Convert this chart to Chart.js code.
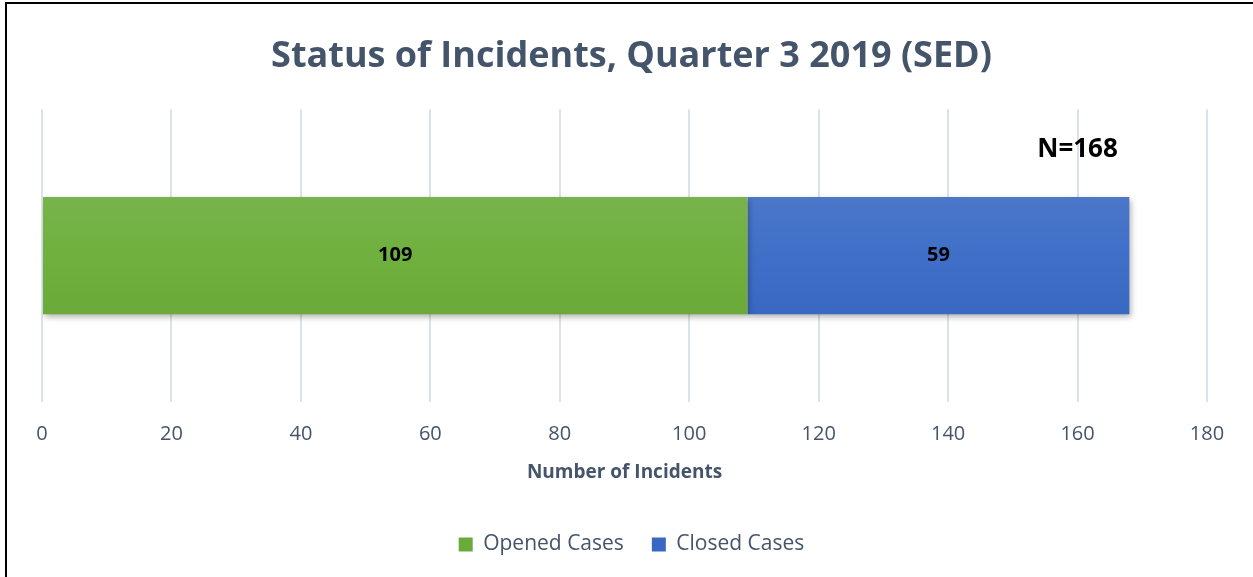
<!DOCTYPE html>
<html lang="en">
<head>
  <meta charset="UTF-8" />
  <title>Status of Incidents, Quarter 3 2019 (SED)</title>
  <script src="https://cdn.jsdelivr.net/npm/chart.js"></script>
  <style>
    body {
      margin: 0;
      overflow: hidden;
      background: white;
      font-family: "Open Sans", Arial, sans-serif;
    }
    #frame {
      position: absolute;
      left: 5px;
      top: 2px;
      width: 1400px;
      height: 700px;
      border: 2px solid #000;
    }
    #wrap {
      position: absolute;
      left: 0;
      top: 0;
      width: 1253px;
      height: 577px;
    }
  </style>
</head>
<body>
  <div id="frame"></div>
  <div id="wrap"><canvas id="statusChart"></canvas></div>

  <script>
    const categories = ['Q3 2019'];
    const seriesNames = ['Opened Cases', 'Closed Cases'];
    const openedCases = [109];
    const closedCases = [59];
    const tickValues = [0, 20, 40, 60, 80, 100, 120, 140, 160, 180];

    const textColor = '#44546a';
    const fontName = '"Open Sans", Arial, sans-serif';

    function barGradient(top, mid, bottom) {
      return function (context) {
        const area = context.chart.chartArea;
        if (!area) return bottom;
        const el = context.element;
        let y0 = area.top, y1 = area.bottom;
        if (el && el.height) {
          y0 = el.y - el.height / 2;
          y1 = el.y + el.height / 2;
        }
        const g = context.chart.ctx.createLinearGradient(0, y0, 0, y1);
        g.addColorStop(0, top);
        g.addColorStop(0.5, mid);
        g.addColorStop(1, bottom);
        return g;
      };
    }

    // soft shadow under the bars
    const shadowPlugin = {
      id: 'barShadow',
      beforeDatasetsDraw(chart) {
        const ctx = chart.ctx;
        ctx.save();
        ctx.shadowColor = 'rgba(0,0,0,0.3)';
        ctx.shadowBlur = 6;
        ctx.shadowOffsetX = 2;
        ctx.shadowOffsetY = 3;
      },
      afterDatasetsDraw(chart) {
        chart.ctx.restore();
      }
    };

    // value labels in the bars + N total
    const labelPlugin = {
      id: 'valueLabels',
      afterDatasetsDraw(chart) {
        const ctx = chart.ctx;
        ctx.save();
        ctx.fillStyle = '#000';
        ctx.textAlign = 'center';
        ctx.textBaseline = 'middle';
        ctx.font = 'bold 20px ' + fontName;
        let total = 0;
        let barTop = 0;
        chart.data.datasets.forEach(function (ds, i) {
          const meta = chart.getDatasetMeta(i);
          meta.data.forEach(function (bar, j) {
            const p = bar.getCenterPoint();
            ctx.fillText(ds.data[j], p.x, p.y);
            total += ds.data[j];
            barTop = bar.y - bar.height / 2;
          });
        });
        ctx.font = 'bold 26px ' + fontName;
        ctx.fillText('N=' + total, chart.scales.x.getPixelForValue(160), barTop - 48);
        ctx.restore();
      }
    };

    new Chart(document.getElementById('statusChart'), {
      type: 'bar',
      data: {
        labels: categories,
        datasets: [
          {
            label: seriesNames[0],
            data: openedCases,
            backgroundColor: barGradient('#84b85f', '#6fb03f', '#63a032'),
            borderWidth: 0
          },
          {
            label: seriesNames[1],
            data: closedCases,
            backgroundColor: barGradient('#5f83cc', '#3f6fc8', '#2f60bb'),
            borderWidth: 0
          }
        ]
      },
      options: {
        indexAxis: 'y',
        responsive: true,
        maintainAspectRatio: false,
        animation: false,
        datasets: {
          bar: { barPercentage: 0.4, categoryPercentage: 1.0 }
        },
        layout: {
          padding: { left: 34, right: 24, top: 14, bottom: 12 }
        },
        scales: {
          x: {
            stacked: true,
            min: 0,
            max: 180,
            afterBuildTicks(axis) {
              axis.ticks = tickValues.map(function (v) { return { value: v }; });
            },
            grid: {
              color: '#dde2ea',
              lineWidth: 2,
              drawTicks: false
            },
            border: { display: false },
            ticks: {
              color: textColor,
              padding: 20,
              font: { size: 20, family: fontName }
            },
            title: {
              display: true,
              text: 'Number of Incidents',
              color: textColor,
              padding: { top: -5, bottom: 22 },
              font: { size: 19, weight: 'bold', family: fontName }
            }
          },
          y: {
            stacked: true,
            grid: { display: false },
            border: { display: false },
            ticks: { display: false }
          },
          // empty spacer on the right so the plot ends at 180 like the original
          yRight: {
            position: 'right',
            grid: { display: false },
            border: { display: false },
            ticks: { display: false },
            afterFit(axis) { axis.width = 22; }
          }
        },
        plugins: {
          title: {
            display: true,
            text: 'Status of Incidents, Quarter 3 2019 (SED)',
            color: textColor,
            padding: { top: 21, bottom: 31 },
            font: { size: 36, weight: 'bold', family: fontName }
          },
          legend: {
            position: 'bottom',
            labels: {
              color: textColor,
              boxWidth: 14,
              boxHeight: 14,
              padding: 28,
              font: { size: 21, family: fontName },
              generateLabels(chart) {
                const cols = ['#6aaa3a', '#3868c2'];
                return chart.data.datasets.map(function (ds, i) {
                  return {
                    text: ds.label,
                    fillStyle: cols[i],
                    strokeStyle: cols[i],
                    lineWidth: 0,
                    fontColor: textColor,
                    datasetIndex: i
                  };
                });
              }
            }
          },
          tooltip: { enabled: false }
        }
      },
      plugins: [shadowPlugin, labelPlugin]
    });
  </script>
</body>
</html>
